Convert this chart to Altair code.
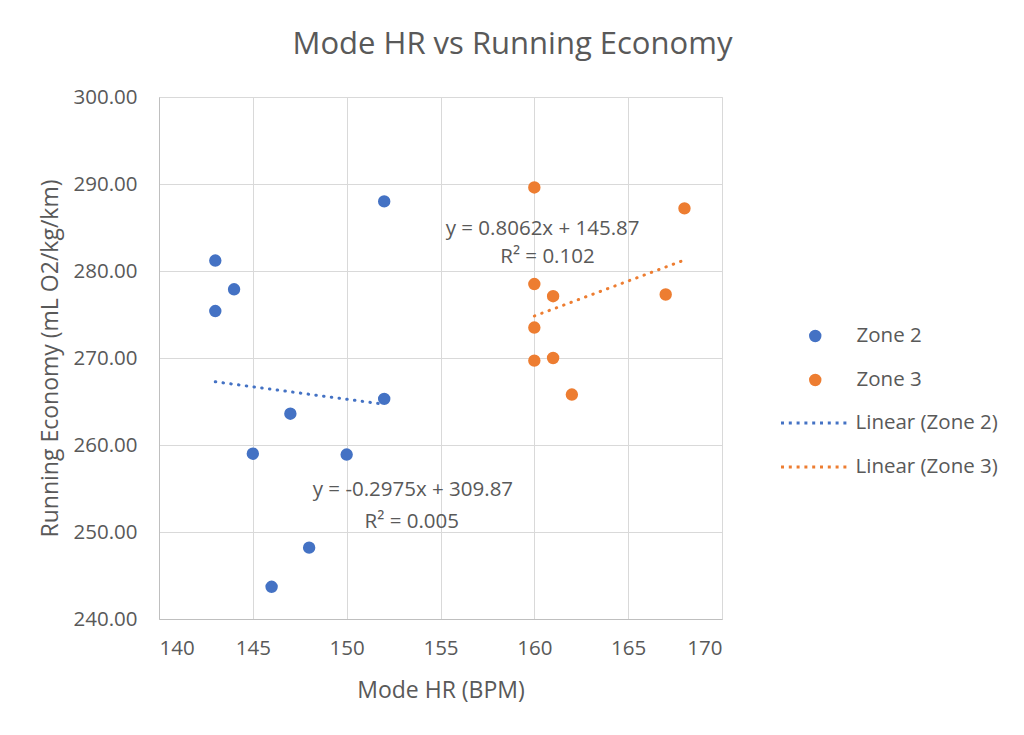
import altair as alt
import pandas as pd

# ---- data ----
zone2_hr = [143, 144, 143, 152, 152, 147, 145, 150, 148, 146]
zone2_re = [281.2, 277.9, 275.4, 288.0, 265.3, 263.6, 259.0, 258.9, 248.2, 243.7]
zone3_hr = [160, 168, 160, 161, 167, 160, 160, 161, 162]
zone3_re = [289.6, 287.2, 278.5, 277.1, 277.3, 273.5, 269.7, 270.0, 265.8]

zones = ["Zone 2", "Zone 3"]
trend_names = ["Linear (Zone 2)", "Linear (Zone 3)"]
colors = ["#4472C4", "#ED7D31"]

eq_text = ["y = -0.2975x + 309.87", "R² = 0.005", "y = 0.8062x + 145.87", "R² = 0.102"]
eq_x = [153.53, 153.47, 160.44, 160.70]
eq_y = [254.83, 251.20, 284.83, 281.60]

x_ticks = [140, 145, 150, 155, 160, 165, 170]
y_ticks = [240, 250, 260, 270, 280, 290, 300]

df = pd.DataFrame({
    "hr": zone2_hr + zone3_hr,
    "re": zone2_re + zone3_re,
    "zone": ["Zone 2"] * len(zone2_hr) + ["Zone 3"] * len(zone3_hr),
})
labels = pd.DataFrame({"x": eq_x, "y": eq_y, "text": eq_text})

GRAY = "#595959"
FONT = "Open Sans"

xs = alt.Scale(domain=[140, 170], nice=False, zero=False)
ys = alt.Scale(domain=[240, 300], nice=False, zero=False)

x_axis = alt.Axis(
    title="Mode HR (BPM)", values=x_ticks, format="d", grid=True, ticks=False, tickSize=0,
    labelPadding=19, labelFontSize=20.5, labelColor=GRAY, labelFont=FONT,
    titleFontSize=23, titleColor=GRAY, titleFont=FONT, titleFontWeight="normal",
    titleY=71, titleBaseline="middle", gridColor="#d9d9d9", domainColor="#bfbfbf",
)
y_axis = alt.Axis(
    title="Running Economy (mL O2/kg/km)", values=y_ticks, format=".2f", grid=True,
    ticks=False, tickSize=0, labelPadding=22, labelFontSize=20.5, labelColor=GRAY,
    labelFont=FONT, titleFontSize=23, titleColor=GRAY, titleFont=FONT,
    titleFontWeight="normal", titleX=-109, titleY=261, titleBaseline="middle",
    titleAlign="center", gridColor="#d9d9d9", domainColor="#bfbfbf",
)

base = alt.Chart(df)

points = base.mark_circle(size=154, opacity=1).encode(
    x=alt.X("hr:Q", scale=xs, axis=x_axis),
    y=alt.Y("re:Q", scale=ys, axis=y_axis),
    color=alt.Color(
        "zone:N",
        scale=alt.Scale(domain=zones, range=colors),
        legend=alt.Legend(
            title=None, orient="none", legendX=646, legendY=227, symbolType="circle",
            symbolSize=154, clipHeight=24, rowPadding=20, labelOffset=31, padding=0,
            labelFontSize=20.5, labelColor=GRAY, labelFont=FONT,
        ),
    ),
)

trend = base.transform_regression(
    "hr", "re", groupby=["zone"]
).transform_calculate(
    trend="'Linear (' + datum.zone + ')'"
).mark_line(strokeDash=[0.5, 7.3], strokeCap="round", strokeWidth=3).encode(
    x=alt.X("hr:Q", scale=xs),
    y=alt.Y("re:Q", scale=ys),
    color=alt.Color(
        "trend:N",
        scale=alt.Scale(domain=trend_names, range=colors),
        legend=alt.Legend(
            title=None, orient="none", legendX=620.5, legendY=314, symbolType="stroke",
            symbolSize=4356, symbolStrokeWidth=3, symbolDash=[3, 4.8], clipHeight=24,
            rowPadding=20, labelOffset=7, padding=0,
            labelFontSize=20.5, labelColor=GRAY, labelFont=FONT,
        ),
    ),
)

eqs = alt.Chart(labels).mark_text(
    fontSize=20.5, color=GRAY, font=FONT, align="center", baseline="middle"
).encode(
    x=alt.X("x:Q", scale=xs),
    y=alt.Y("y:Q", scale=ys),
    text="text:N",
)

chart = alt.layer(points, trend, eqs).resolve_scale(color="independent").properties(
    width=563,
    height=522,
    autosize=alt.AutoSizeParams(type="none"),
    padding={"left": 151, "top": 89, "right": 294, "bottom": 108},
    title=alt.Title(
        "Mode HR vs Running Economy", fontSize=31, color=GRAY, font=FONT,
        fontWeight="normal", anchor="middle", frame="group", dx=72, offset=26,
    ),
).configure_view(stroke=None).configure(font=FONT)

chart.save("out.html", embed_options={"renderer": "svg", "actions": False})
